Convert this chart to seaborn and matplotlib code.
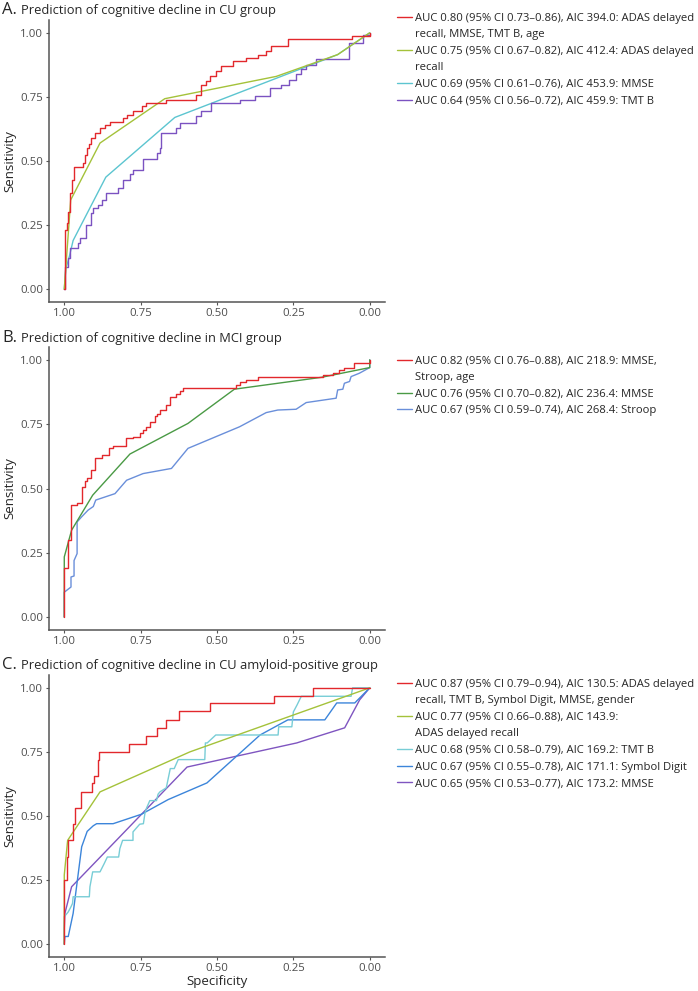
import matplotlib.pyplot as plt
from matplotlib.lines import Line2D
import seaborn as sns

# ---- panel A: CU group ----
a_red_spec = [1.0, 0.998, 0.992, 0.987, 0.981, 0.976, 0.968, 0.938, 0.932, 0.925, 0.918, 0.911, 0.900,
              0.883, 0.867, 0.851, 0.807, 0.796, 0.775, 0.747, 0.731, 0.666, 0.568, 0.551, 0.535, 0.524,
              0.502, 0.486, 0.448, 0.404, 0.366, 0.339, 0.322, 0.268, 0.059, 0.0]
a_red_sens = [0.0, 0.231, 0.26, 0.302, 0.374, 0.426, 0.478, 0.491, 0.524, 0.55, 0.567, 0.589, 0.609,
              0.628, 0.641, 0.654, 0.668, 0.681, 0.694, 0.713, 0.726, 0.739, 0.759, 0.798, 0.811, 0.830,
              0.850, 0.870, 0.889, 0.902, 0.915, 0.928, 0.948, 0.974, 0.988, 1.0]
a_yg_spec = [1.0, 0.979, 0.883, 0.671, 0.306, 0.105, 0.0]
a_yg_sens = [0.0, 0.348, 0.570, 0.743, 0.830, 0.915, 1.0]
a_cyan_spec = [1.0, 0.995, 0.985, 0.971, 0.864, 0.638, 0.105, 0.0]
a_cyan_sens = [0.0, 0.08, 0.12, 0.19, 0.437, 0.670, 0.915, 1.0]
a_purple_spec = [1.0, 0.996, 0.987, 0.981, 0.954, 0.949, 0.929, 0.911, 0.905, 0.889, 0.878, 0.862, 0.824,
                 0.807, 0.785, 0.775, 0.742, 0.698, 0.687, 0.682, 0.633, 0.622, 0.568, 0.551, 0.519, 0.426,
                 0.377, 0.328, 0.290, 0.263, 0.241, 0.224, 0.208, 0.175, 0.069, 0.023, 0.0]
a_purple_sens = [0.0, 0.087, 0.12, 0.159, 0.179, 0.198, 0.25, 0.296, 0.316, 0.329, 0.348, 0.377, 0.394,
                 0.426, 0.45, 0.465, 0.507, 0.533, 0.55, 0.609, 0.628, 0.648, 0.674, 0.696, 0.726, 0.739,
                 0.752, 0.785, 0.798, 0.817, 0.841, 0.857, 0.876, 0.896, 0.961, 0.99, 1.0]

# ---- panel B: MCI group ----
b_red_spec = [1.0, 1.0, 0.989, 0.978, 0.958, 0.943, 0.932, 0.925, 0.914, 0.900, 0.878, 0.853, 0.840,
              0.798, 0.775, 0.753, 0.742, 0.731, 0.718, 0.704, 0.696, 0.685, 0.666, 0.653, 0.633, 0.622,
              0.611, 0.437, 0.426, 0.404, 0.366, 0.154, 0.121, 0.099, 0.083, 0.050, 0.0]
b_red_sens = [0.0, 0.19, 0.30, 0.435, 0.445, 0.506, 0.53, 0.54, 0.57, 0.62, 0.63, 0.656, 0.665,
              0.695, 0.70, 0.714, 0.727, 0.738, 0.76, 0.78, 0.788, 0.805, 0.825, 0.857, 0.868, 0.88,
              0.89, 0.903, 0.913, 0.922, 0.932, 0.94, 0.948, 0.96, 0.968, 0.987, 1.0]
b_green_spec = [1.0, 1.0, 0.976, 0.907, 0.785, 0.595, 0.443, 0.159, 0.0, 0.0]
b_green_sens = [0.0, 0.234, 0.338, 0.474, 0.634, 0.753, 0.886, 0.932, 0.97, 1.0]
b_blue_spec = [1.0, 1.0, 0.978, 0.978, 0.968, 0.968, 0.958, 0.958, 0.943, 0.922, 0.905, 0.897, 0.834,
               0.796, 0.742, 0.649, 0.595, 0.426, 0.339, 0.301, 0.241, 0.208, 0.110, 0.105, 0.088, 0.083,
               0.066, 0.061, 0.034, 0.0, 0.0]
b_blue_sens = [0.0, 0.097, 0.117, 0.156, 0.16, 0.22, 0.247, 0.37, 0.39, 0.416, 0.43, 0.455, 0.48,
               0.532, 0.558, 0.578, 0.656, 0.74, 0.795, 0.805, 0.808, 0.834, 0.851, 0.883, 0.886, 0.909,
               0.916, 0.935, 0.948, 0.97, 1.0]

# ---- panel C: CU amyloid-positive group ----
c_red_spec = [1.0, 1.0, 0.992, 0.989, 0.971, 0.965, 0.946, 0.908, 0.903, 0.889, 0.886, 0.789, 0.734,
              0.696, 0.666, 0.625, 0.524, 0.315, 0.186, 0.0]
c_red_sens = [0.0, 0.25, 0.34, 0.405, 0.468, 0.53, 0.594, 0.627, 0.655, 0.718, 0.75, 0.78, 0.813,
              0.845, 0.876, 0.909, 0.941, 0.97, 1.0, 1.0]
c_yg_spec = [1.0, 1.0, 0.989, 0.883, 0.589, 0.0]
c_yg_sens = [0.0, 0.27, 0.405, 0.594, 0.75, 1.0]
c_cyan_spec = [1.0, 1.0, 0.987, 0.978, 0.973, 0.971, 0.918, 0.916, 0.907, 0.883, 0.869, 0.859, 0.822,
               0.818, 0.809, 0.775, 0.775, 0.753, 0.741, 0.736, 0.731, 0.720, 0.698, 0.693, 0.687, 0.666,
               0.653, 0.640, 0.627, 0.540, 0.538, 0.532, 0.504, 0.300, 0.298, 0.255, 0.250, 0.238, 0.224,
               0.061, 0.056, 0.0]
c_cyan_sens = [0.0, 0.107, 0.126, 0.146, 0.159, 0.185, 0.185, 0.224, 0.282, 0.282, 0.315, 0.34, 0.34,
               0.373, 0.405, 0.405, 0.438, 0.468, 0.47, 0.51, 0.53, 0.56, 0.56, 0.585, 0.594, 0.61,
               0.685, 0.685, 0.72, 0.72, 0.785, 0.785, 0.816, 0.816, 0.848, 0.848, 0.906, 0.933, 0.967,
               0.967, 1.0, 1.0]
c_blue_spec = [1.0, 0.998, 0.987, 0.971, 0.943, 0.925, 0.905, 0.894, 0.840, 0.747, 0.660, 0.533, 0.359,
               0.268, 0.147, 0.108, 0.049, 0.0]
c_blue_sens = [0.0, 0.03, 0.03, 0.12, 0.38, 0.44, 0.462, 0.47, 0.47, 0.507, 0.564, 0.629, 0.816,
               0.875, 0.875, 0.941, 0.941, 1.0]
c_purple_spec = [1.0, 1.0, 0.998, 0.976, 0.598, 0.239, 0.082, 0.033, 0.0]
c_purple_sens = [0.0, 0.06, 0.12, 0.224, 0.691, 0.785, 0.844, 0.953, 1.0]

# legend texts (continuation lines have no key)
a_labels = ['AUC 0.80 (95% CI 0.73–0.86), AIC 394.0: ADAS delayed', 'recall, MMSE, TMT B, age',
            'AUC 0.75 (95% CI 0.67–0.82), AIC 412.4: ADAS delayed', 'recall',
            'AUC 0.69 (95% CI 0.61–0.76), AIC 453.9: MMSE',
            'AUC 0.64 (95% CI 0.56–0.72), AIC 459.9: TMT B']
b_labels = ['AUC 0.82 (95% CI 0.76–0.88), AIC 218.9: MMSE,', 'Stroop, age',
            'AUC 0.76 (95% CI 0.70–0.82), AIC 236.4: MMSE',
            'AUC 0.67 (95% CI 0.59–0.74), AIC 268.4: Stroop']
c_labels = ['AUC 0.87 (95% CI 0.79–0.94), AIC 130.5: ADAS delayed', 'recall, TMT B, Symbol Digit, MMSE, gender',
            'AUC 0.77 (95% CI 0.66–0.88), AIC 143.9:', 'ADAS delayed recall',
            'AUC 0.68 (95% CI 0.58–0.79), AIC 169.2: TMT B',
            'AUC 0.67 (95% CI 0.55–0.78), AIC 171.1: Symbol Digit',
            'AUC 0.65 (95% CI 0.53–0.77), AIC 173.2: MMSE']

RED = '#E2282C'
YG = '#A4C23A'
TICKS = [1.0, 0.75, 0.5, 0.25, 0.0]
LW = 1.0

sns.set_theme(style='ticks')
plt.rcParams['font.family'] = ['Open Sans', 'DejaVu Sans']

fig = plt.figure(figsize=(6.98, 9.91), dpi=100)
W, H = 698, 991


def px_axes(top, bottom):
    return fig.add_axes([49 / W, 1 - bottom / H, 336 / W, (bottom - top) / H])


def draw(axes, spec, sens, color, steps=False):
    sns.lineplot(x=spec, y=sens, ax=axes, color=color, linewidth=LW, sort=False,
                 estimator=None, drawstyle='steps-post' if steps else 'default')


def style(axes, xlabel=''):
    axes.set_xlim(1.05, -0.05)
    axes.set_ylim(-0.05, 1.05)
    axes.set_xticks(TICKS)
    axes.set_yticks(TICKS)
    axes.set_xticklabels([f'{t:.2f}' for t in TICKS])
    axes.set_yticklabels([f'{t:.2f}' for t in TICKS])
    axes.tick_params(labelsize=8.2, length=2.5, width=0.8, colors='#555555', labelcolor='#4D4D4D', pad=1.5)
    for side in ('left', 'bottom'):
        axes.spines[side].set_color('#555555')
        axes.spines[side].set_linewidth(1.1)
    sns.despine(ax=axes)
    axes.set_ylabel('Sensitivity', fontsize=9.5, labelpad=3)
    axes.set_xlabel(xlabel, fontsize=9.5, labelpad=1)


def legend(axes, labels, colors, top):
    handles = [Line2D([], [], color=c if c else 'none', linewidth=LW) for c in colors]
    axes.legend(handles, labels, loc='upper left', bbox_to_anchor=(397 / W, 1 - top / H),
                bbox_transform=fig.transFigure, frameon=False, fontsize=8.1, handlelength=1.3,
                handletextpad=0.3, labelspacing=0.5, borderpad=0, borderaxespad=0)


def title(letter, text, baseline):
    fig.text(2 / W, 1 - baseline / H, letter, fontsize=12, va='baseline')
    fig.text(21 / W, 1 - baseline / H, text, fontsize=9.3, va='baseline')


# panel A
ax_a = px_axes(20, 302)
draw(ax_a, a_cyan_spec, a_cyan_sens, '#5CC5D0')
draw(ax_a, a_purple_spec, a_purple_sens, '#7B52C1', steps=True)
draw(ax_a, a_yg_spec, a_yg_sens, YG)
draw(ax_a, a_red_spec, a_red_sens, RED, steps=True)
style(ax_a)
legend(ax_a, a_labels, [RED, None, YG, None, '#5CC5D0', '#7B52C1'], 12.5)
title('A.', 'Prediction of cognitive decline in CU group', 14)

# panel B
ax_b = px_axes(347, 630)
draw(ax_b, b_blue_spec, b_blue_sens, '#6A8FDA')
draw(ax_b, b_green_spec, b_green_sens, '#4A9A45')
draw(ax_b, b_red_spec, b_red_sens, RED, steps=True)
style(ax_b)
legend(ax_b, b_labels, [RED, None, '#4A9A45', '#6A8FDA'], 355.5)
title('B.', 'Prediction of cognitive decline in MCI group', 342)

# panel C
ax_c = px_axes(675, 957)
draw(ax_c, c_purple_spec, c_purple_sens, '#7F55C0')
draw(ax_c, c_blue_spec, c_blue_sens, '#3C85DA')
draw(ax_c, c_cyan_spec, c_cyan_sens, '#78CDD6')
draw(ax_c, c_yg_spec, c_yg_sens, YG)
draw(ax_c, c_red_spec, c_red_sens, RED, steps=True)
style(ax_c, 'Specificity')
legend(ax_c, c_labels, [RED, None, YG, None, '#78CDD6', '#3C85DA', '#7F55C0'], 678.5)
title('C.', 'Prediction of cognitive decline in CU amyloid-positive group', 669)

fig.savefig('out.png', dpi=100)
